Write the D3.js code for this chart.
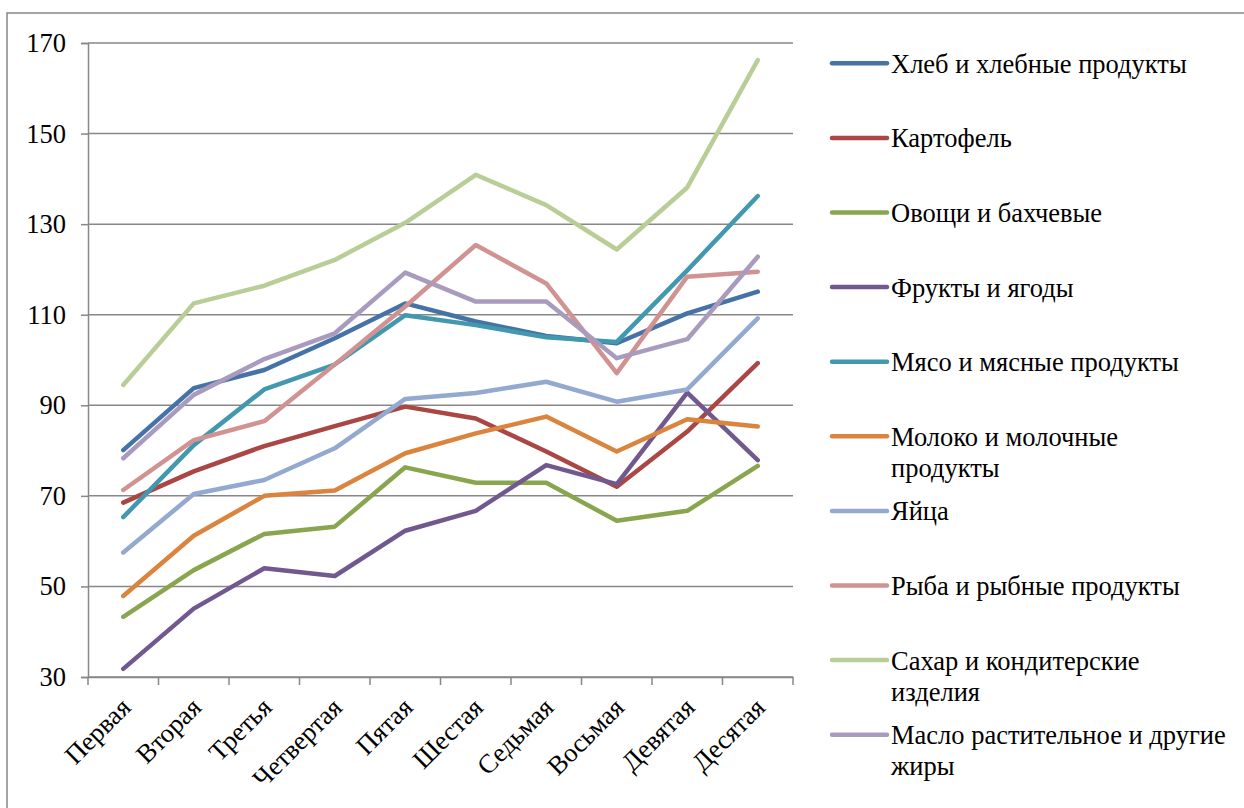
<!DOCTYPE html>
<html><head><meta charset="utf-8">
<script src="https://cdn.jsdelivr.net/npm/d3@7"></script>
<style>html,body{margin:0;padding:0;background:#fff;}
text{font-family:"Liberation Serif" !important;}</style>
</head><body>
<script>
const categories = ["Первая","Вторая","Третья","Четвертая","Пятая","Шестая","Седьмая","Восьмая","Девятая","Десятая"];
const seriesNames = ["Хлеб и хлебные продукты","Картофель","Овощи и бахчевые","Фрукты и ягоды","Мясо и мясные продукты","Молоко и молочные продукты","Яйца","Рыба и рыбные продукты","Сахар и кондитерские изделия","Масло растительное и другие жиры"];
const legendLines = [["Хлеб и хлебные продукты"],["Картофель"],["Овощи и бахчевые"],["Фрукты и ягоды"],["Мясо и мясные продукты"],["Молоко и молочные","продукты"],["Яйца"],["Рыба и рыбные продукты"],["Сахар и кондитерские","изделия"],["Масло растительное и другие","жиры"]];
const bread   = [80.1, 93.8, 97.8, 104.8, 112.5, 108.5, 105.3, 103.7, 110.3, 115.1];
const potato  = [68.5, 75.4, 81.0, 85.4, 89.7, 87.1, 79.8, 72.0, 84.2, 99.3];
const veg     = [43.3, 53.6, 61.6, 63.2, 76.3, 72.9, 72.9, 64.5, 66.7, 76.6];
const fruit   = [31.8, 45.1, 54.0, 52.3, 62.3, 66.7, 76.8, 72.6, 92.8, 77.9];
const meat    = [65.3, 81.2, 93.5, 99.0, 109.9, 107.7, 105.0, 104.0, 119.8, 136.2];
const milk    = [47.9, 61.2, 70.0, 71.2, 79.4, 83.8, 87.5, 79.8, 86.9, 85.3];
const eggs    = [57.5, 70.4, 73.5, 80.5, 91.4, 92.7, 95.2, 90.8, 93.5, 109.2];
const fish    = [71.3, 82.3, 86.5, 99.0, 111.8, 125.4, 116.9, 97.1, 118.4, 119.5];
const sugar   = [94.5, 112.5, 116.4, 122.1, 130.3, 140.9, 134.2, 124.4, 138.1, 166.2];
const oil     = [78.3, 92.3, 100.2, 105.9, 119.3, 112.9, 112.9, 100.4, 104.6, 122.8];
const yTicks  = [30, 50, 70, 90, 110, 130, 150, 170];
const colors  = ["#4572A7","#AA4643","#89A54E","#71588F","#4198AF","#DB843D","#93A9CF","#D19392","#B9CD96","#A99BBD"];
const allSeries = [bread, potato, veg, fruit, meat, milk, eggs, fish, sugar, oil];

const W = 1244, H = 808;
const FONT = '"Liberation Serif"';
const FS = "26.5px";
const svg = d3.select("body").append("svg").attr("width", W).attr("height", H)
  .style("display", "block").style("font-family", FONT);

// outer chart border (only top and left visible)
svg.append("rect").attr("x", 7).attr("y", 13).attr("width", W + 20).attr("height", H + 20)
  .attr("fill", "none").attr("stroke", "#868686").attr("stroke-width", 1.5);

const x0 = 88, x1 = 793, yTop = 43, yBot = 677;
const x = d3.scaleBand().domain(categories).range([x0, x1]).padding(0);
const y = d3.scaleLinear().domain([30, 170]).range([yBot, yTop]);

// gridlines
svg.append("g").selectAll("line").data(yTicks).join("line")
  .attr("x1", x0).attr("x2", x1).attr("y1", d => y(d)).attr("y2", d => y(d))
  .attr("stroke", "#878787").attr("stroke-width", 1.5);

// y axis
const yAxis = svg.append("g").attr("transform", `translate(${x0},0)`)
  .call(d3.axisLeft(y).tickValues(yTicks).tickSize(7).tickPadding(15));
yAxis.attr("font-family", null).attr("font-size", null);
yAxis.select(".domain").attr("stroke", "#878787").attr("stroke-width", 1.5);
yAxis.selectAll(".tick line").attr("stroke", "#878787").attr("stroke-width", 1.5);
yAxis.selectAll("text").style("font-family", FONT).style("font-size", FS).attr("fill", "#000").attr("dy", "0.32em");

// x axis
const xAxis = svg.append("g").attr("transform", `translate(0,${yBot})`)
  .call(d3.axisBottom(x).tickSize(0).tickFormat(""));
xAxis.select(".domain").attr("stroke", "#878787").attr("stroke-width", 1.5);
const bounds = categories.map(c => x(c)).concat([x1]);
svg.append("g").selectAll("line").data(bounds).join("line")
  .attr("x1", d => d).attr("x2", d => d).attr("y1", yBot).attr("y2", yBot + 8)
  .attr("stroke", "#878787").attr("stroke-width", 1.5);
svg.append("g").selectAll("text").data(categories).join("text")
  .attr("transform", d => `translate(${x(d) + x.bandwidth() / 2 + 9},709) rotate(-45)`)
  .attr("text-anchor", "end").style("font-family", FONT).style("font-size", FS).attr("fill", "#000")
  .text(d => d);

// lines
const line = d3.line().x((d, i) => x(categories[i]) + x.bandwidth() / 2).y(d => y(d));
svg.append("g").selectAll("path").data(allSeries).join("path")
  .attr("d", d => line(d)).attr("fill", "none")
  .attr("stroke", (d, i) => colors[i]).attr("stroke-width", 4.5)
  .attr("stroke-linejoin", "round").attr("stroke-linecap", "round");

// legend
const lg = svg.append("g").selectAll("g").data(seriesNames).join("g")
  .attr("transform", (d, i) => `translate(832,${63.3 + i * 74.6})`);
lg.append("line").attr("x1", 0).attr("x2", 55).attr("y1", 0).attr("y2", 0)
  .attr("stroke", (d, i) => colors[i]).attr("stroke-width", 4.5).attr("stroke-linecap", "round");
lg.each(function(d, i) {
  const t = d3.select(this).append("text").attr("x", 59).attr("y", 9.5)
    .style("font-family", FONT).style("font-size", FS).attr("fill", "#000");
  legendLines[i].forEach((s, j) => t.append("tspan").attr("x", 59).attr("dy", j === 0 ? 0 : 31).text(s));
});
</script>
</body></html>
